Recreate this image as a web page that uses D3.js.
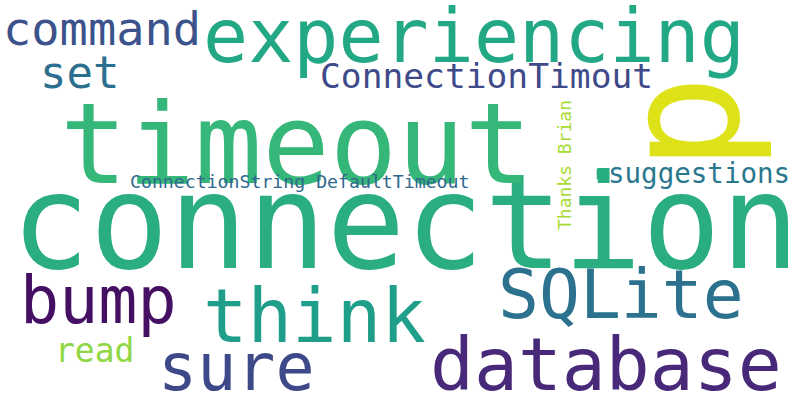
<!DOCTYPE html>
<meta charset="utf-8">
<style>
body { margin: 0; background: #fff; }
text { font-family: "DejaVu Sans Mono", monospace; }
</style>
<body>
<script src="https://d3js.org/d3.v7.min.js"></script>
<script>
// words and their relative weights (font size in px at full scale)
var words = ["connection", "timeout", "experiencing", "database", "SQLite", "think",
  "bump", "sure", "command", "set", "ConnectionTimout", "read", "suggestions",
  "ConnectionString DefaultTimeout", "Thanks Brian", "p", "."];
var weights = [131, 112, 75, 73, 68, 74, 65, 65, 47, 44, 34.6, 33, 27.5, 18.2, 18, 160, 70];
var colors = ["#2aae80", "#35b779", "#22a884", "#482878", "#2c728e", "#1f9e89",
  "#450f63", "#3e4989", "#3b528b", "#2c6f8e", "#3e4a89", "#8fd744", "#2a788e",
  "#31688e", "#a8db34", "#dde318", "#29af7f"];
// layout from the cloud: left x, baseline y, rotation
var layoutX = [11, 60, 203, 430, 498, 203, 20, 158, 3, 40, 320, 55, 608, 130, 571, 738, 580];
var layoutY = [268, 183, 62, 390, 318, 342, 323, 390, 45, 88, 88, 362, 183, 188, 230, 171, 179];
var rotation = [0, 0, 0, 0, 0, 0, 0, 0, 0, 0, 0, 0, 0, 0, -90, -90, 0];

var width = 800, height = 400;
var size = d3.scaleLinear().domain([0, 1]).range([0, 1]);

var svg = d3.select("body").append("svg")
    .attr("width", width)
    .attr("height", height);

svg.selectAll("text")
    .data(words)
  .enter().append("text")
    .attr("transform", function(d, i) {
      return "translate(" + layoutX[i] + "," + layoutY[i] + ") rotate(" + rotation[i] + ")";
    })
    .style("font-size", function(d, i) { return size(weights[i]) + "px"; })
    .style("fill", function(d, i) { return colors[i]; })
    .text(function(d) { return d; });
</script>
</body>
